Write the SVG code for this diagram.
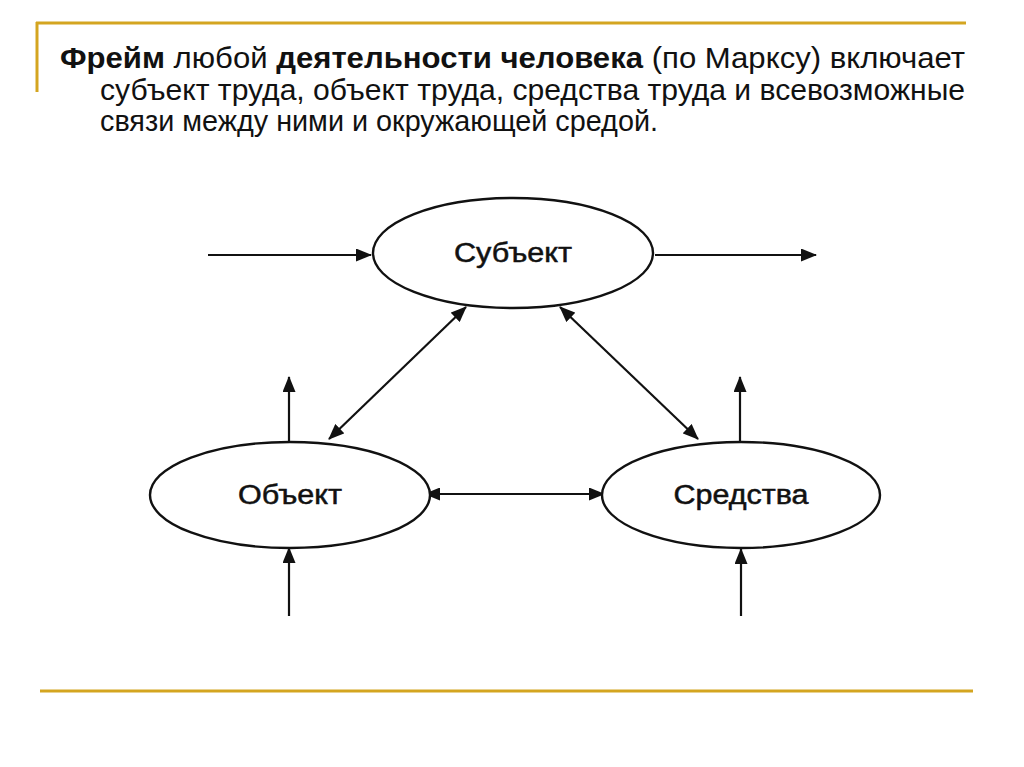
<svg xmlns="http://www.w3.org/2000/svg" width="1024" height="767" viewBox="0 0 1024 767">
<style>
.t{font-family:"Liberation Sans",Arial,sans-serif;font-size:30px;fill:#111}
.b{font-weight:bold}
.lbl{font-family:"Liberation Sans",Arial,sans-serif;font-size:27px;fill:#111;stroke:#111;stroke-width:0.5;text-anchor:middle;dominant-baseline:central}
.node{fill:#fff;stroke:#111;stroke-width:2.4}
.c{stroke:#111;stroke-width:2.2;fill:none}
.gold{stroke:#d4a520;stroke-width:3;fill:none}
</style>
<defs>
<marker id="ah" viewBox="0 0 16 13" refX="15" refY="6.5" markerWidth="16" markerHeight="13" markerUnits="userSpaceOnUse" orient="auto-start-reverse">
<path d="M0,0 L16,6.5 L0,13 Z" fill="#111"/>
</marker>
</defs>
<rect width="1024" height="767" fill="#fff"/>
<g id="frame">
<line class="gold" x1="36" y1="23" x2="966" y2="23"/>
<line class="gold" x1="37" y1="22" x2="37" y2="92"/>
<line class="gold" x1="40" y1="691" x2="973" y2="691"/>
</g>
<g id="title">
<text class="t" x="60" y="68" textLength="905" lengthAdjust="spacingAndGlyphs"><tspan class="b">Фрейм</tspan>  любой  <tspan class="b">деятельности</tspan>  <tspan class="b">человека</tspan>  (по  Марксу)  включает</text>
<text class="t" x="100" y="100" textLength="865" lengthAdjust="spacingAndGlyphs">субъект труда, объект труда, средства труда и всевозможные</text>
<text class="t" x="100" y="131" textLength="558" lengthAdjust="spacingAndGlyphs">связи между ними и окружающей средой.</text>
</g>
<g id="connectors">
<line class="c" x1="208" y1="255" x2="371" y2="255" marker-end="url(#ah)"/>
<line class="c" x1="655" y1="255" x2="816" y2="255" marker-end="url(#ah)"/>
<line class="c" x1="466" y1="307" x2="329" y2="439" marker-start="url(#ah)" marker-end="url(#ah)"/>
<line class="c" x1="560" y1="307" x2="698" y2="439" marker-start="url(#ah)" marker-end="url(#ah)"/>
<line class="c" x1="425" y1="494" x2="604" y2="494" marker-start="url(#ah)" marker-end="url(#ah)"/>
<line class="c" x1="289" y1="441" x2="289" y2="377" marker-end="url(#ah)"/>
<line class="c" x1="740" y1="441" x2="740" y2="377" marker-end="url(#ah)"/>
<line class="c" x1="289" y1="616" x2="289" y2="548" marker-end="url(#ah)"/>
<line class="c" x1="741" y1="616" x2="741" y2="549" marker-end="url(#ah)"/>
</g>
<g id="subject">
<ellipse class="node" cx="513" cy="253" rx="140" ry="55"/>
<text class="lbl" x="513" y="253" textLength="118" lengthAdjust="spacingAndGlyphs">Субъект</text>
</g>
<g id="object">
<ellipse class="node" cx="290" cy="495" rx="140" ry="53"/>
<text class="lbl" x="290" y="495" textLength="104" lengthAdjust="spacingAndGlyphs">Объект</text>
</g>
<g id="means">
<ellipse class="node" cx="741" cy="495" rx="139" ry="53"/>
<text class="lbl" x="741" y="495" textLength="135" lengthAdjust="spacingAndGlyphs">Средства</text>
</g>
</svg>
